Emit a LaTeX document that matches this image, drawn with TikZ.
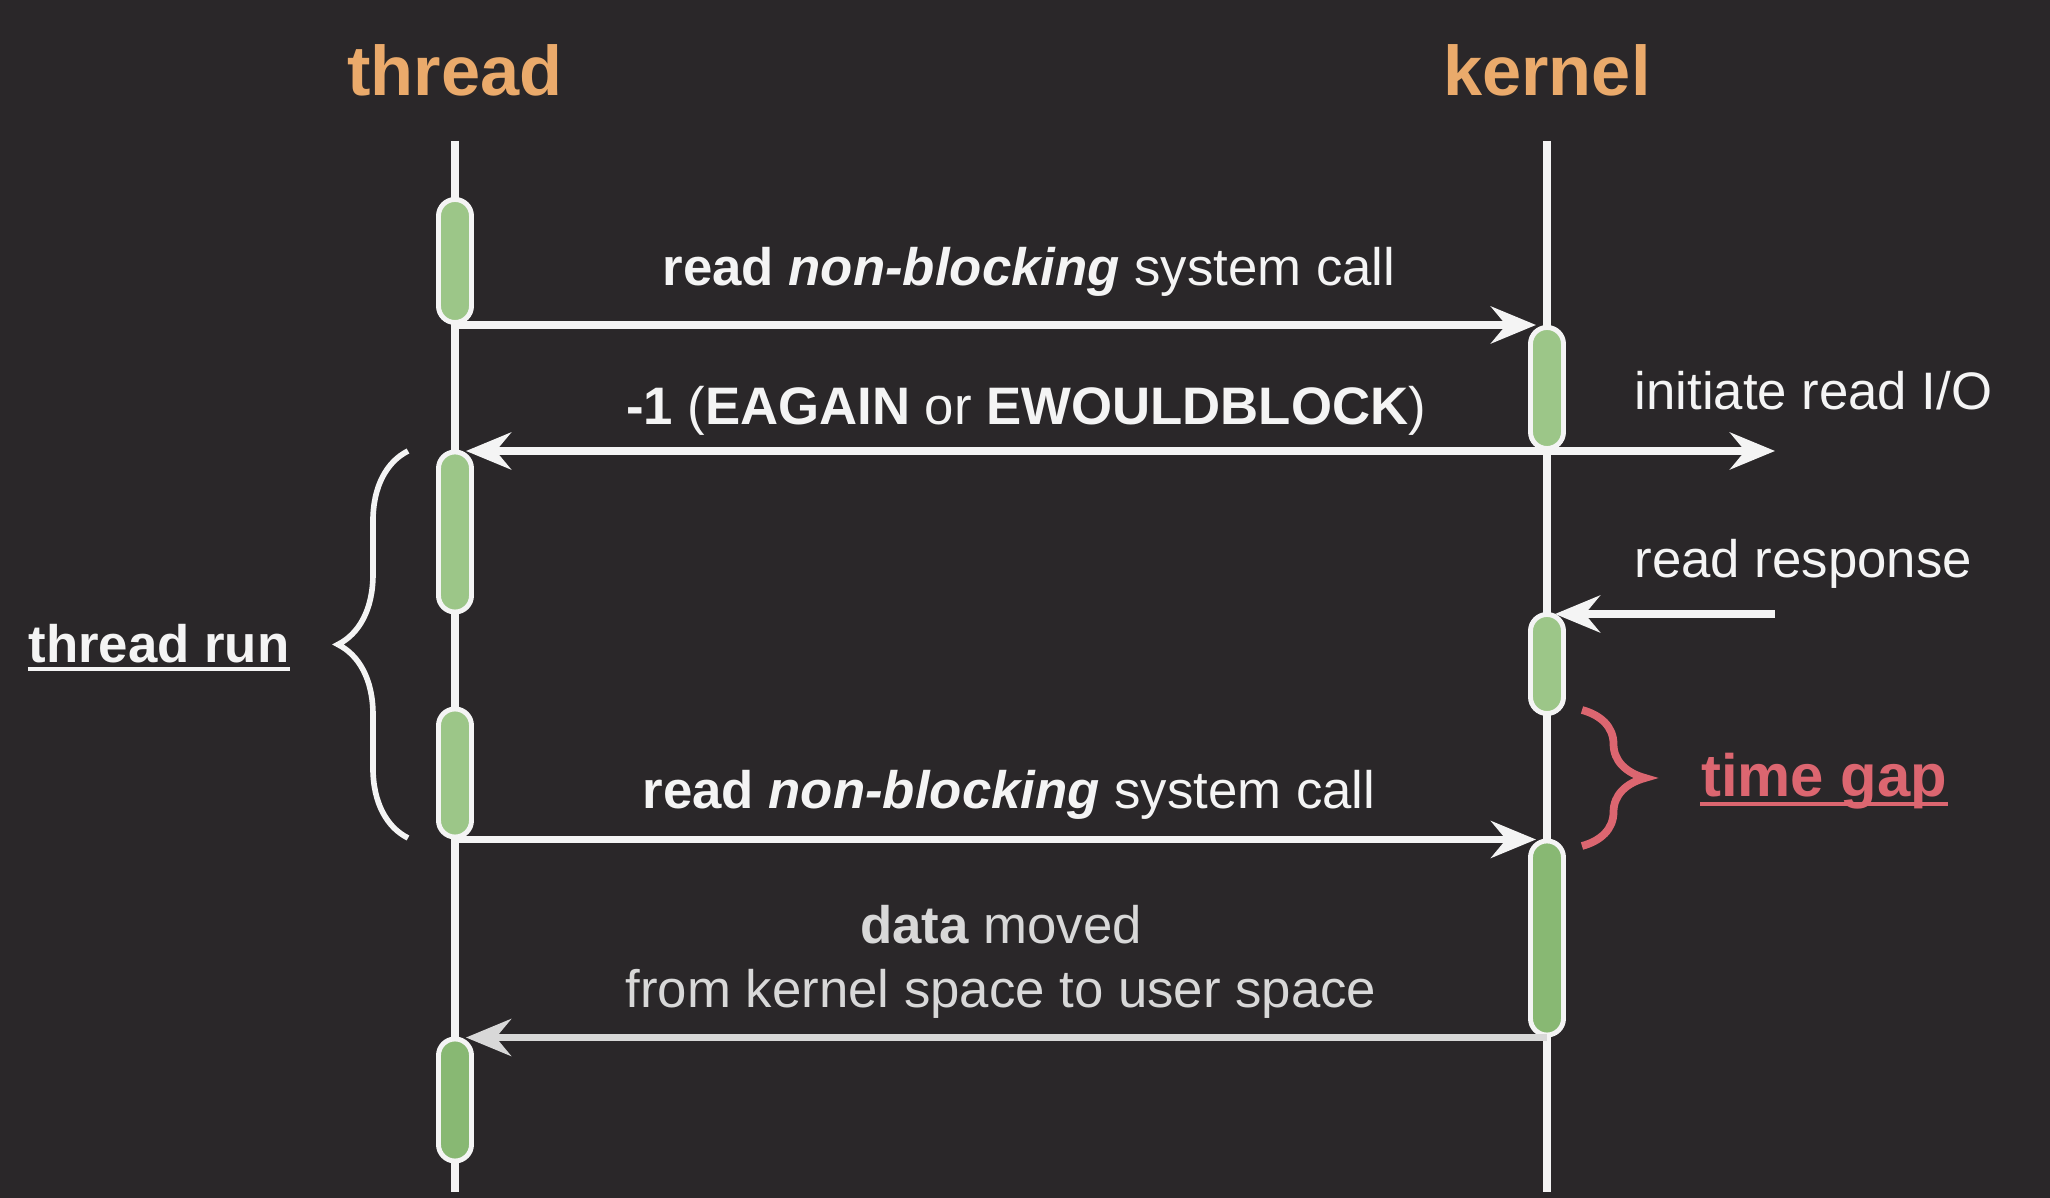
\documentclass[tikz,border=0pt]{standalone}
\usepackage{fontspec}
\setmainfont{Liberation Sans}
\usetikzlibrary{arrows.meta, decorations.pathreplacing}
\definecolor{bgdark}{HTML}{2A2729}
\definecolor{lineW}{HTML}{F4F4F4}
\definecolor{ltgray}{HTML}{D8D8D8}
\definecolor{barGreen}{HTML}{9CC688}
\definecolor{barGreenD}{HTML}{88B873}
\definecolor{titleOr}{HTML}{EAAA6B}
\definecolor{gapRed}{HTML}{DC6670}

\begin{document}
\begin{tikzpicture}[
  x=0.01cm, y=-0.01cm,
  >={Stealth[length=12.8pt, width=10.5pt, inset=4.3pt]},
  life/.style={draw=lineW, line width=2pt},
  bar/.style={draw=lineW, line width=1.4pt, fill=#1, rounded corners=0.165cm,
    minimum width=0.33cm, inner sep=0pt},
  arr/.style={->, line width=2pt, lineW, shorten >=0.11cm},
  lbl/.style={font=\fontsize{15}{18}\selectfont, text=lineW, anchor=base,
    inner sep=0pt, align=center},
  title/.style={font=\fontsize{20}{24}\selectfont\bfseries, text=titleOr,
    anchor=base, inner sep=0pt},
  brc/.style={decorate, decoration={brace, amplitude=#1}, line width=1.6pt},
]

% Background
\fill[bgdark] (0,0) rectangle (2050,1198);

% Titles
\node[title] (thread) at (455,96) {thread};
\node[title] (kernel) at (1547,96) {kernel};

% Lifelines
\coordinate (t-top) at (455,141);
\coordinate (t-bot) at (455,1192);
\coordinate (k-top) at (1547,141);
\coordinate (k-bot) at (1547,1192);
\draw[life] (t-top) -- (t-bot);
\draw[life] (k-top) -- (k-bot);

% Activation bars: thread
\node[bar=barGreen, minimum height=1.23cm] (t1) at (455,261) {};
\node[bar=barGreen, minimum height=1.60cm] (t2) at (455,532) {};
\node[bar=barGreen, minimum height=1.28cm] (t3) at (455,773) {};
\node[bar=barGreenD, minimum height=1.22cm] (t4) at (455,1100) {};

% Activation bars: kernel
\node[bar=barGreen, minimum height=1.21cm] (k1) at (1547,388) {};
\node[bar=barGreen, minimum height=0.99cm] (k2) at (1547,664) {};
\node[bar=barGreenD, minimum height=1.94cm] (k3) at (1547,938) {};

% Outside I/O ends
\coordinate (io) at (1775,448);
\coordinate (resp) at (1775,614);

% Arrows
\draw[arr] (t1.south) -- (t1.south -| k1.center);
\draw[arr] (k1.south) -- (k1.south -| t2.center);
\draw[arr, shorten >=0pt] (k1.south) -- (k1.south -| io);
\draw[arr, shorten >=0.08cm] (resp) -- (resp -| k2.center);
\draw[arr] (t3.south) -- (t3.south -| k3.center);
\draw[arr, ltgray] (k3.south) -- (k3.south -| t4.center);

% Message labels
\node[lbl] (call1) at (1029,286)
  {\textbf{read \textit{non-blocking}} system call};
\node[lbl] (eagain) at (1026,425)
  {\textbf{-1} (\textbf{EAGAIN} or \textbf{EWOULDBLOCK})};
\node[lbl, anchor=base west] (init) at (1634,410) {initiate read I/O};
\node[lbl, anchor=base west] (rresp) at (1634,578) {read response};
\node[lbl] (call2) at (1009,809)
  {\textbf{read \textit{non-blocking}} system call};
\node[lbl, anchor=center, text=ltgray] (moved) at (1001,962)
  {\textbf{data} moved\\from kernel space to user space};

% Thread run brace
\draw[brc=0.7cm, lineW] (408,838) -- (408,451);
\node[lbl, font=\fontsize{15}{18}\selectfont\bfseries] (trun) at (159,663) {thread run};
\draw[lineW, line width=1.2pt]
  ([yshift=-1.6pt]trun.base west) -- ([yshift=-1.6pt]trun.base east);

% Time gap brace
\draw[brc=0.63cm, gapRed, line width=2.2pt] (1582,710) -- (1582,846);
\node[lbl, font=\fontsize{17}{20}\selectfont\bfseries, text=gapRed] (tgap)
  at (1824,797) {time gap};
\draw[gapRed, line width=1.3pt]
  ([yshift=-2pt]tgap.base west) -- ([yshift=-2pt]tgap.base east);

\end{tikzpicture}
\end{document}
